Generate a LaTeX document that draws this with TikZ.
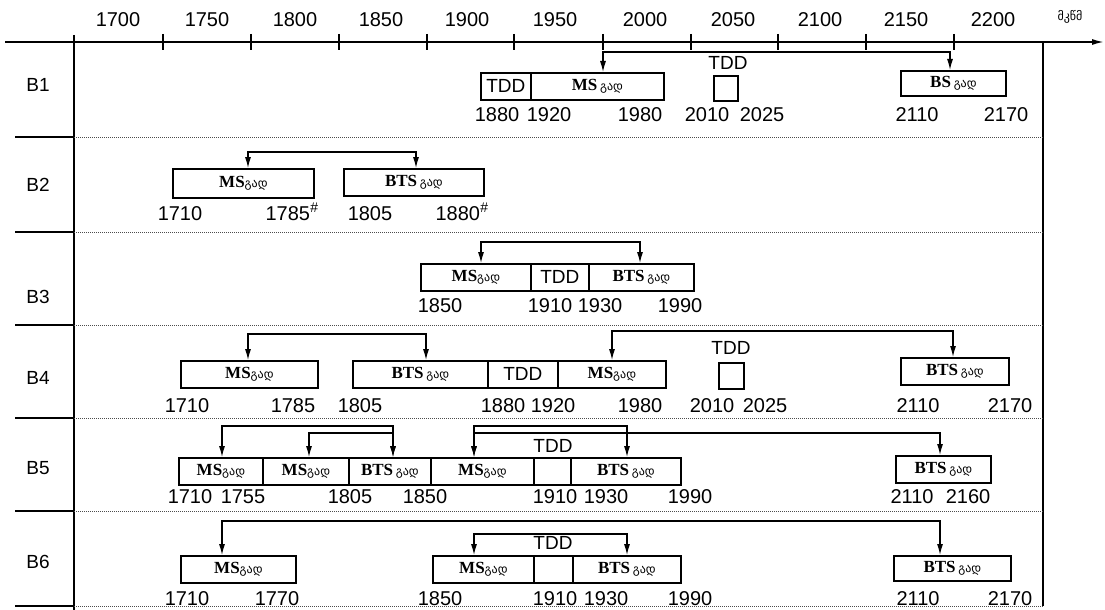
\documentclass[tikz,border=0pt]{standalone}
\usepackage{fontspec}
\setmainfont{Liberation Sans}
\newfontfamily\serifb{Liberation Serif}
\newfontfamily\geo{DejaVu Sans}
\usetikzlibrary{arrows.meta,calc}
\newcommand\gd{{\geo\fontsize{12}{12}\selectfont გად}}
\newcommand\msb{{\serifb\bfseries\fontsize{17}{17}\selectfont MS}}
\newcommand\btsb{{\serifb\bfseries\fontsize{17}{17}\selectfont BTS}}
\newcommand\bsb{{\serifb\bfseries\fontsize{17}{17}\selectfont BS}}
\begin{document}
\begin{tikzpicture}[x=1pt,y=-1pt,
  box/.style={draw,line width=1.8pt,minimum height=27pt,inner sep=0pt,anchor=north west},
  tdtxt/.style={font=\fontsize{19}{19}\selectfont},
  yr/.style={font=\fontsize{20}{20}\selectfont,inner sep=0pt},
  rowlab/.style={font=\fontsize{19}{19}\selectfont,inner sep=0pt},
  conn/.style={line width=1.2pt,{Latex[length=11pt,width=6pt]}-{Latex[length=11pt,width=6pt]}},
  sep/.style={densely dotted,line width=1pt,black!70},
  stub/.style={line width=1.6pt},
  tick/.style={line width=1.7pt}]
\useasboundingbox (0,0) rectangle (1105,610);
% axis
\coordinate (ax0) at (5,42);
\coordinate (ax1) at (1104,42);
\draw[line width=1.6pt,-{Latex[length=12pt,width=6pt]}] (ax0) -- (ax1);
\foreach \x in {163,251,339,427,514,603,691,778,866,954}{\draw[tick] (\x,34) -- (\x,50);}
\foreach \x/\t in {118/1700,207/1750,295/1800,381/1850,467/1900,555/1950,645/2000,733/2050,820/2100,906/2150,993/2200}
  {\node[yr] (ax\t) at (\x,20) {\t};}
\node[inner sep=0pt,font=\geo\fontsize{12}{12}\selectfont] (unit) at (1070,17) {მკწმ};
\draw[line width=2.8pt] (74,35) -- (74,610);
\draw[line width=1.9pt] (1043,42) -- (1043,606);
% separators
\foreach \y in {137,232,325,418,511,606}{
  \draw[stub] (15,\y) -- (74,\y);
  \draw[sep] (74,\y) -- (1043,\y);}
% row labels
\node[rowlab] (rB1) at (38,85) {B1};
\node[rowlab] (rB2) at (38,185) {B2};
\node[rowlab] (rB3) at (38,297) {B3};
\node[rowlab] (rB4) at (38,378) {B4};
\node[rowlab] (rB5) at (38,468) {B5};
\node[rowlab] (rB6) at (38,562) {B6};
% ---------- B1
\node[box,minimum width=50pt,tdtxt] (b1tdd) at (480,72) {TDD};
\node[box,minimum width=133pt] (b1ms) at (530,72) {\msb\ \gd};
\node[box,minimum width=24pt,minimum height=25pt,line width=1.5pt] (b1tq) at (713,75) {};
\node[tdtxt,inner sep=0pt] (b1tl) at (728,63) {TDD};
\node[box,minimum width=105pt,minimum height=25pt] (b1bs) at (900,70) {\bsb\ \gd};
\draw[conn] ([xshift=73pt]b1ms.north west) -- ++(0,-20) -| ([xshift=50pt]b1bs.north west);
\foreach \x/\t in {497/1880,549/1920,640/1980,707/2010,762/2025,917/2110,1006/2170}
  {\node[yr] (y1\t) at (\x,115) {\t};}
% ---------- B2
\node[box,minimum width=141pt,minimum height=29pt] (b2ms) at (172,168) {\msb\gd};
\node[box,minimum width=140pt] (b2bts) at (343,168) {\btsb\ \gd};
\draw[conn] ([xshift=76pt]b2ms.north west) -- ++(0,-16) -| ([xshift=73pt]b2bts.north west);
\node[yr] (y2a) at (180,214) {1710};
\node[yr] (y2b) at (292,212) {1785\textsuperscript{\itshape\#}};
\node[yr] (y2c) at (370,214) {1805};
\node[yr] (y2d) at (462,212) {1880\textsuperscript{\itshape\#}};
% ---------- B3
\node[box,minimum width=110pt] (b3ms) at (420,263) {\msb\gd};
\node[box,minimum width=58pt,tdtxt] (b3tdd) at (530,263) {TDD};
\node[box,minimum width=105pt] (b3bts) at (588,263) {\btsb\ \gd};
\draw[conn] ([xshift=61pt]b3ms.north west) -- ++(0,-21) -| ([xshift=52pt]b3bts.north west);
\foreach \x/\t in {440/1850,550/1910,600/1930,680/1990}
  {\node[yr] (y3\t) at (\x,306) {\t};}
% ---------- B4
\node[box,minimum width=137pt] (b4ms) at (180,360) {\msb\gd};
\node[box,minimum width=135pt] (b4bts) at (352,360) {\btsb\ \gd};
\node[box,minimum width=70pt,tdtxt] (b4tdd) at (487,360) {TDD};
\node[box,minimum width=108pt] (b4ms2) at (557,360) {\msb\gd};
\node[box,minimum width=25pt,minimum height=26pt,line width=1.5pt] (b4tq) at (718,362) {};
\node[tdtxt,inner sep=0pt] (b4tl) at (731,348) {TDD};
\node[box,minimum width=108pt] (b4bts2) at (900,357) {\btsb\ \gd};
\draw[conn] ([xshift=68pt]b4ms.north west) -- ++(0,-26) -| ([xshift=74pt]b4bts.north west);
\draw[conn] ([xshift=55pt]b4ms2.north west) -- ++(0,-29) -| ([xshift=53pt]b4bts2.north west);
\foreach \x/\t in {187/1710,293/1785,360/1805,503/1880,553/1920,640/1980,712/2010,765/2025,918/2110,1010/2170}
  {\node[yr] (y4\t) at (\x,406) {\t};}
% ---------- B5
\node[box,minimum width=84pt] (b5ms1) at (178,457) {\msb\gd};
\node[box,minimum width=86pt] (b5ms2) at (262,457) {\msb\gd};
\node[box,minimum width=82pt] (b5bts1) at (348,457) {\btsb\ \gd};
\node[box,minimum width=103pt] (b5ms3) at (430,457) {\msb\gd};
\node[box,minimum width=37pt] (b5tdd) at (533,457) {};
\node[box,minimum width=110pt] (b5bts2) at (570,457) {\btsb\ \gd};
\node[tdtxt,inner sep=0pt] (b5tl) at (553,446) {TDD};
\node[box,minimum width=95pt] (b5bts3) at (895,455) {\btsb\ \gd};
\draw[conn] ([xshift=44pt]b5ms1.north west) -- ++(0,-31) -| ([xshift=45pt]b5bts1.north west);
\draw[conn] ([xshift=47pt]b5ms2.north west) -- ++(0,-24) -| ([xshift=45pt]b5bts1.north west);
\draw[conn] ([xshift=44pt]b5ms3.north west) -- ++(0,-31) -| ([xshift=57pt]b5bts2.north west);
\draw[conn] ([xshift=44pt]b5ms3.north west) -- ++(0,-24) -| ([xshift=45pt]b5bts3.north west);
\foreach \x/\t in {190/1710,243/1755,350/1805,425/1850,555/1910,606/1930,690/1990,912/2110,968/2160}
  {\node[yr] (y5\t) at (\x,497) {\t};}
% ---------- B6
\node[box,minimum width=115pt] (b6ms1) at (180,555) {\msb\gd};
\node[box,minimum width=101pt] (b6ms2) at (432,555) {\msb\gd};
\node[box,minimum width=39pt] (b6tdd) at (533,555) {};
\node[box,minimum width=108pt] (b6bts1) at (572,555) {\btsb\ \gd};
\node[tdtxt,inner sep=0pt] (b6tl) at (553,543) {TDD};
\node[box,minimum width=117pt,minimum height=25pt] (b6bts2) at (893,555) {\btsb\ \gd};
\draw[conn] ([xshift=42pt]b6ms1.north west) -- ++(0,-34) -| ([xshift=47pt]b6bts2.north west);
\draw[conn] ([xshift=42pt]b6ms2.north west) -- ++(0,-21) -| ([xshift=55pt]b6bts1.north west);
\foreach \x/\t in {187/1710,277/1770,440/1850,555/1910,606/1930,690/1990,918/2110,1010/2170}
  {\node[yr] (y6\t) at (\x,599) {\t};}
\end{tikzpicture}
\end{document}
